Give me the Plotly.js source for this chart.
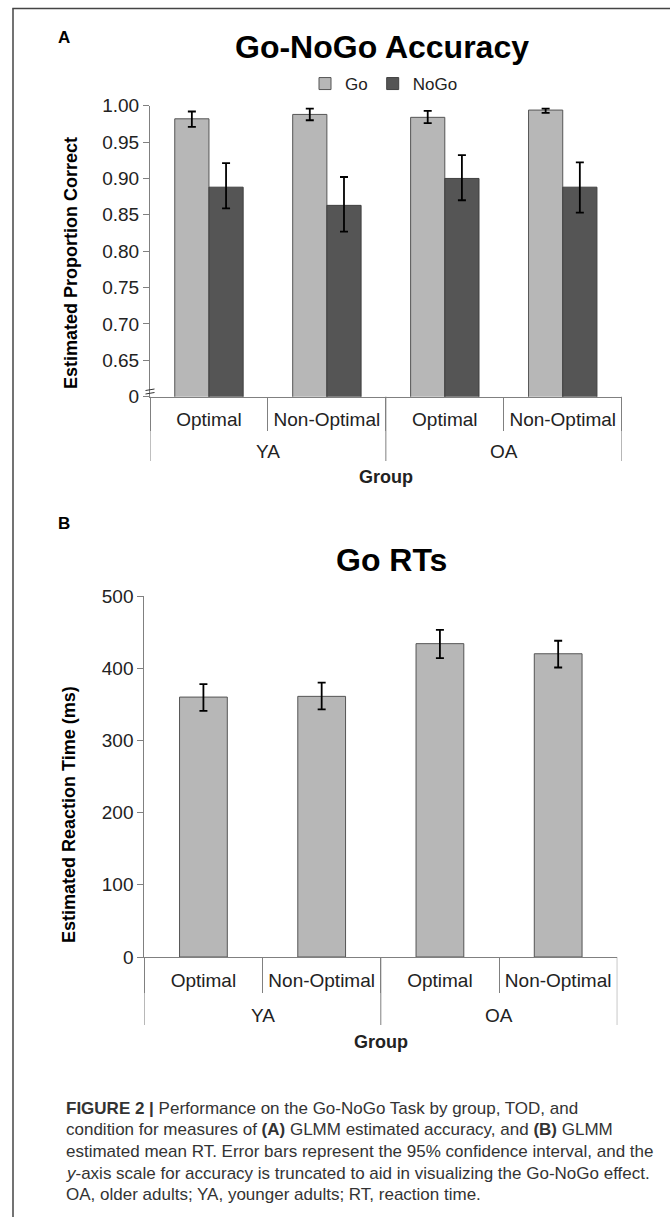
<!DOCTYPE html>
<html>
<head>
<meta charset="utf-8">
<script src="https://cdn.plot.ly/plotly-3.0.1.min.js"></script>
<style>
html,body{margin:0;padding:0;background:#fff;}
#chart{width:670px;height:1217px;}
</style>
</head>
<body>
<div id="chart"></div>
<script>
// ---- data ----
const groups = ["YA", "YA", "OA", "OA"];
const conditions = ["Optimal", "Non-Optimal", "Optimal", "Non-Optimal"];

const goAcc     = [0.982, 0.988, 0.984, 0.994];
const goAccLow  = [0.971, 0.980, 0.976, 0.990];
const goAccHigh = [0.992, 0.996, 0.993, 0.996];

const nogoAcc     = [0.888, 0.863, 0.900, 0.888];
const nogoAccLow  = [0.859, 0.827, 0.870, 0.853];
const nogoAccHigh = [0.921, 0.902, 0.932, 0.922];

const goRT     = [360, 361, 434, 420];
const goRTLow  = [341, 343, 414, 401];
const goRTHigh = [378, 380, 453, 438];

const accTickVals = [0.60, 0.65, 0.70, 0.75, 0.80, 0.85, 0.90, 0.95, 1.00];
const accTickText = ["0", "0.65", "0.70", "0.75", "0.80", "0.85", "0.90", "0.95", "1.00"];
const rtTickVals  = [0, 100, 200, 300, 400, 500];

const captionLines = [
  "<b>FIGURE 2 |</b> Performance on the Go-NoGo Task by group, TOD, and",
  "condition for measures of <b>(A)</b> GLMM estimated accuracy, and <b>(B)</b> GLMM",
  "estimated mean RT. Error bars represent the 95% confidence interval, and the",
  "<i>y</i>-axis scale for accuracy is truncated to aid in visualizing the Go-NoGo effect.",
  "OA, older adults; YA, younger adults; RT, reaction time."
];

// ---- helpers ----
const W = 670, H = 1217;
const px = v => v / W;
const py = v => 1 - v / H;
const up = (hi, m) => hi.map((h, i) => h - m[i]);
const dn = (lo, m) => lo.map((l, i) => m[i] - l);

// unique category keys (group + condition), labelled with the condition only
const xKeys = groups.map((g, i) => g + " | " + conditions[i]);

// group spans on the category axis (index positions)
const groupSpans = [];
groups.forEach((g, i) => {
  const last = groupSpans[groupSpans.length - 1];
  if (last && last.name === g) last.end = i; else groupSpans.push({name: g, start: i, end: i});
});

const FONT = "Liberation Sans, Arial, sans-serif";
const GO_FILL = "#b7b7b7", NOGO_FILL = "#555555", EDGE = "#555555", AXIS = "#808080";

const errStyle = {type: "data", symmetric: false, color: "#000", thickness: 1.8, width: 4};

const traces = [
  {
    type: "bar", name: "Go", x: xKeys, y: goAcc,
    xaxis: "x", yaxis: "y",
    marker: {color: GO_FILL, line: {color: EDGE, width: 1}},
    error_y: Object.assign({array: up(goAccHigh, goAcc), arrayminus: dn(goAccLow, goAcc)}, errStyle)
  },
  {
    type: "bar", name: "NoGo", x: xKeys, y: nogoAcc,
    xaxis: "x", yaxis: "y",
    marker: {color: NOGO_FILL, line: {color: "#404040", width: 1}},
    error_y: Object.assign({array: up(nogoAccHigh, nogoAcc), arrayminus: dn(nogoAccLow, nogoAcc)}, errStyle)
  },
  {
    type: "bar", name: "Go RT", x: xKeys, y: goRT,
    xaxis: "x2", yaxis: "y2", showlegend: false, width: 0.404,
    marker: {color: GO_FILL, line: {color: EDGE, width: 1}},
    error_y: Object.assign({array: up(goRTHigh, goRT), arrayminus: dn(goRTLow, goRT)}, errStyle)
  }
];

const xCommon = {
  type: "category",
  categoryorder: "array", categoryarray: xKeys,
  tickvals: xKeys, ticktext: conditions,
  range: [-0.5, xKeys.length - 0.5],
  showline: true, linecolor: AXIS, linewidth: 1,
  ticks: "outside", tickcolor: AXIS, tickwidth: 1,
  tickson: "boundaries",
  tickfont: {family: FONT, size: 19, color: "#222"},
  showgrid: false, zeroline: false, fixedrange: true
};
const yCommon = {
  showline: true, linecolor: AXIS, linewidth: 1,
  ticks: "outside", ticklen: 6, tickcolor: AXIS,
  tickfont: {family: FONT, size: 19, color: "#222"},
  showgrid: false, zeroline: false, fixedrange: true
};

const ann = (text, x, y, size, opts) => Object.assign({
  text: text, xref: "paper", yref: "paper", x: px(x), y: py(y),
  showarrow: false, font: {family: FONT, size: size, color: "#000"},
  xanchor: "center", yanchor: "middle"
}, opts || {});

const annotations = [
  ann("<b>A</b>", 64, 37, 17),
  ann("<b>B</b>", 64, 523, 17),
  ann("<b>Go-NoGo Accuracy</b>", 382, 47, 32),
  ann("<b>Go RTs</b>", 391, 560, 32),
  ann("<b>Estimated Proportion Correct</b>", 71, 263, 18, {textangle: -90}),
  ann("<b>Estimated Reaction Time (ms)</b>", 69, 815, 18, {textangle: -90}),
  ann("<b>Group</b>", 386, 477, 18, {font: {family: FONT, size: 18, color: "#222"}}),
  ann("<b>Group</b>", 381, 1042, 18, {font: {family: FONT, size: 18, color: "#222"}})
];
captionLines.forEach((t, i) => {
  annotations.push(ann(t, 64, 1108 + i * 21.7, 17,
    {xanchor: "left", font: {family: FONT, size: 17, color: "#333"}}));
});

const shapes = [
  // figure frame (open to right/bottom)
  {type: "line", xref: "paper", yref: "paper", x0: px(13), x1: px(13), y0: py(1230), y1: py(8.5),
   line: {color: "#444", width: 1.5}},
  {type: "line", xref: "paper", yref: "paper", x0: px(12.3), x1: px(680), y0: py(8.5), y1: py(8.5),
   line: {color: "#444", width: 1.5}},
  // axis break marks on accuracy y axis
  {type: "line", xref: "paper", yref: "paper", x0: px(145.5), x1: px(154.5), y0: py(390.5), y1: py(389),
   line: {color: "#333", width: 1}},
  {type: "line", xref: "paper", yref: "paper", x0: px(145.5), x1: px(154.5), y0: py(394), y1: py(392.5),
   line: {color: "#333", width: 1}}
];

// second-level (group) labels and long dividers for both panels
const panels = [
  {xref: "x", axisY: 396.7, labelY: 451.7, divEnd: 461},
  {xref: "x2", axisY: 957, labelY: 1015, divEnd: 1025}
];
panels.forEach(p => {
  const bounds = new Set();
  groupSpans.forEach(s => {
    annotations.push({
      text: s.name, xref: p.xref, yref: "paper", x: (s.start + s.end) / 2, y: py(p.labelY),
      showarrow: false, xanchor: "center", yanchor: "middle",
      font: {family: FONT, size: 19, color: "#222"}
    });
    bounds.add(s.start - 0.5); bounds.add(s.end + 0.5);
  });
  bounds.forEach(b => shapes.push({
    type: "line", xref: p.xref, yref: "paper", x0: b, x1: b, y0: py(p.axisY), y1: py(p.divEnd),
    line: {color: AXIS, width: 1}
  }));
});

const layout = {
  width: W, height: H,
  margin: {l: 0, r: 0, t: 0, b: 0},
  paper_bgcolor: "#fff", plot_bgcolor: "#fff",
  font: {family: FONT, color: "#222"},
  barmode: "group", bargap: 0.42, bargroupgap: 0,
  showlegend: true,
  legend: {
    orientation: "h", x: px(384), y: py(84), xanchor: "center", yanchor: "middle",
    font: {family: FONT, size: 17, color: "#222"}, itemwidth: 30, bgcolor: "rgba(0,0,0,0)"
  },
  xaxis: Object.assign({}, xCommon, {domain: [px(150), px(621.7)], anchor: "y",
    ticklen: 33, ticklabelstandoff: 5}),
  yaxis: Object.assign({}, yCommon, {domain: [py(396.7), py(105.7)], anchor: "x",
    range: [0.6, 1.0], tickvals: accTickVals, ticktext: accTickText}),
  xaxis2: Object.assign({}, xCommon, {domain: [px(144.3), px(617.3)], anchor: "y2",
    ticklen: 35, ticklabelstandoff: 6}),
  yaxis2: Object.assign({}, yCommon, {domain: [py(957), py(596)], anchor: "x2",
    range: [0, 500], tickvals: rtTickVals}),
  annotations: annotations,
  shapes: shapes
};

Plotly.newPlot("chart", traces, layout, {displayModeBar: false, staticPlot: true});
</script>
</body>
</html>
